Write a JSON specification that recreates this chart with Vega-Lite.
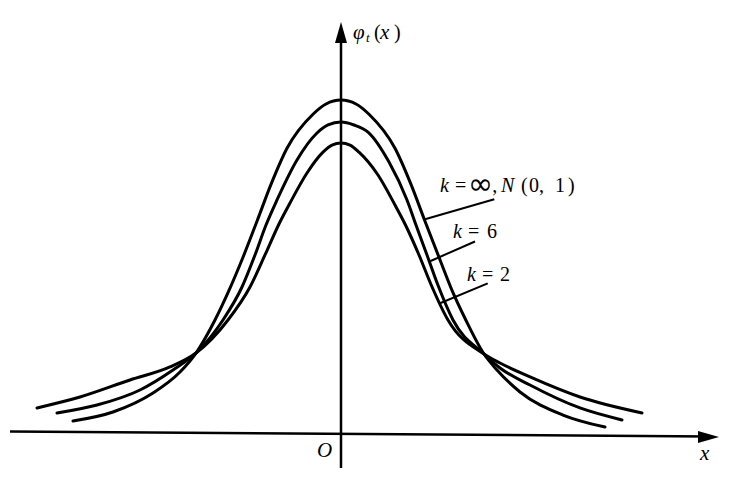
{
  "$schema": "https://vega.github.io/schema/vega-lite/v6.json",
  "width": 734,
  "height": 484,
  "padding": 0,
  "autosize": {"type": "fit", "contains": "padding"},
  "background": "white",
  "config": {"view": {"stroke": null}},
  "encoding": {
    "x": {"field": "x", "type": "quantitative", "scale": {"domain": [-4.2625, 4.9125], "nice": false, "zero": false}, "axis": null},
    "y": {"field": "y", "type": "quantitative", "scale": {"domain": [-0.059524, 0.516667], "nice": false, "zero": false}, "axis": null}
  },
  "layer": [
    {
      "data": {"values": [
        {"k": "inf", "x": -3.35, "y": 0.0155}, {"k": "inf", "x": -2.85, "y": 0.0262}, {"k": "inf", "x": -2.35, "y": 0.0488},
        {"k": "inf", "x": -2.0125, "y": 0.0738}, {"k": "inf", "x": -1.8125, "y": 0.0964}, {"k": "inf", "x": -1.575, "y": 0.1357},
        {"k": "inf", "x": -1.4125, "y": 0.1682}, {"k": "inf", "x": -1.225, "y": 0.2104}, {"k": "inf", "x": -1.05, "y": 0.2533},
        {"k": "inf", "x": -0.875, "y": 0.2971}, {"k": "inf", "x": -0.675, "y": 0.3401}, {"k": "inf", "x": -0.35, "y": 0.3807},
        {"k": "inf", "x": -0.1875, "y": 0.3929}, {"k": "inf", "x": 0, "y": 0.3976}, {"k": "inf", "x": 0.1875, "y": 0.3929},
        {"k": "inf", "x": 0.35, "y": 0.3807}, {"k": "inf", "x": 0.675, "y": 0.3401}, {"k": "inf", "x": 0.875, "y": 0.2971},
        {"k": "inf", "x": 1.05, "y": 0.2533}, {"k": "inf", "x": 1.225, "y": 0.2104}, {"k": "inf", "x": 1.4, "y": 0.1682},
        {"k": "inf", "x": 1.56, "y": 0.1357}, {"k": "inf", "x": 1.7875, "y": 0.0952}, {"k": "inf", "x": 1.95, "y": 0.0762},
        {"k": "inf", "x": 2.2375, "y": 0.05}, {"k": "inf", "x": 2.775, "y": 0.0226}, {"k": "inf", "x": 3.3, "y": 0.0083},

        {"k": "6", "x": -3.55, "y": 0.025}, {"k": "6", "x": -3.05, "y": 0.0345}, {"k": "6", "x": -2.5125, "y": 0.0524},
        {"k": "6", "x": -2.1, "y": 0.0762}, {"k": "6", "x": -1.8125, "y": 0.0964}, {"k": "6", "x": -1.475, "y": 0.1357},
        {"k": "6", "x": -1.2375, "y": 0.175}, {"k": "6", "x": -1.075, "y": 0.2131}, {"k": "6", "x": -0.9375, "y": 0.2488},
        {"k": "6", "x": -0.8, "y": 0.2786}, {"k": "6", "x": -0.55, "y": 0.3262}, {"k": "6", "x": -0.3, "y": 0.3583},
        {"k": "6", "x": -0.1625, "y": 0.3679}, {"k": "6", "x": 0, "y": 0.3714}, {"k": "6", "x": 0.1625, "y": 0.3679},
        {"k": "6", "x": 0.3375, "y": 0.3595}, {"k": "6", "x": 0.6, "y": 0.3238}, {"k": "6", "x": 0.825, "y": 0.2786},
        {"k": "6", "x": 0.9375, "y": 0.2488}, {"k": "6", "x": 1.075, "y": 0.2131}, {"k": "6", "x": 1.2125, "y": 0.177},
        {"k": "6", "x": 1.4, "y": 0.1357}, {"k": "6", "x": 1.7875, "y": 0.0952}, {"k": "6", "x": 1.9875, "y": 0.0786},
        {"k": "6", "x": 2.3625, "y": 0.0583}, {"k": "6", "x": 2.9875, "y": 0.031}, {"k": "6", "x": 3.5125, "y": 0.0167},

        {"k": "2", "x": -3.8, "y": 0.031}, {"k": "2", "x": -3.2625, "y": 0.044}, {"k": "2", "x": -2.6375, "y": 0.0643},
        {"k": "2", "x": -2.1375, "y": 0.0798}, {"k": "2", "x": -1.8125, "y": 0.0964}, {"k": "2", "x": -1.4125, "y": 0.1357},
        {"k": "2", "x": -1.1375, "y": 0.175}, {"k": "2", "x": -0.95, "y": 0.2131}, {"k": "2", "x": -0.775, "y": 0.25},
        {"k": "2", "x": -0.6375, "y": 0.275}, {"k": "2", "x": -0.425, "y": 0.3107}, {"k": "2", "x": -0.225, "y": 0.3355},
        {"k": "2", "x": -0.1125, "y": 0.344}, {"k": "2", "x": 0, "y": 0.3464}, {"k": "2", "x": 0.1125, "y": 0.344},
        {"k": "2", "x": 0.225, "y": 0.3355}, {"k": "2", "x": 0.4625, "y": 0.3083}, {"k": "2", "x": 0.675, "y": 0.2726},
        {"k": "2", "x": 0.8, "y": 0.25}, {"k": "2", "x": 0.975, "y": 0.2131}, {"k": "2", "x": 1.125, "y": 0.178},
        {"k": "2", "x": 1.3375, "y": 0.1357}, {"k": "2", "x": 1.7875, "y": 0.0952}, {"k": "2", "x": 1.9875, "y": 0.0845},
        {"k": "2", "x": 2.3625, "y": 0.0679}, {"k": "2", "x": 2.9875, "y": 0.044}, {"k": "2", "x": 3.7625, "y": 0.025}
      ]},
      "mark": {"type": "line", "interpolate": "monotone", "color": "#000000", "strokeWidth": 3, "strokeCap": "round"},
      "encoding": {"detail": {"field": "k"}}
    },
    {
      "data": {"values": [
        {"x": -4.1375, "y": 0.003, "x2": 4.6, "y2": -0.003},
        {"x": 0, "y": -0.0405, "x2": 0, "y2": 0.475}
      ]},
      "mark": {"type": "rule", "color": "#000000", "strokeWidth": 2.5},
      "encoding": {"x2": {"field": "x2"}, "y2": {"field": "y2"}}
    },
    {
      "data": {"values": [
        {"x": 1.05, "y": 0.2556, "x2": 1.9163, "y2": 0.2794},
        {"x": 1.106, "y": 0.2054, "x2": 1.675, "y2": 0.2292},
        {"x": 1.2375, "y": 0.1556, "x2": 1.8338, "y2": 0.1794}
      ]},
      "mark": {"type": "rule", "color": "#000000", "strokeWidth": 2},
      "encoding": {"x2": {"field": "x2"}, "y2": {"field": "y2"}}
    },
    {
      "data": {"values": [{"x": 4.59375, "y": -0.0036}]},
      "mark": {"type": "point", "shape": "M-1,-0.57L1,0L-1,0.57Z", "size": 441, "filled": true, "color": "#000000", "opacity": 1}
    },
    {
      "data": {"values": [{"x": 0, "y": 0.478}]},
      "mark": {"type": "point", "shape": "M-0.57,1L0,-1L0.57,1Z", "size": 441, "filled": true, "color": "#000000", "opacity": 1}
    },
    {
      "data": {"values": [
        {"t": "k", "x": 1.2375, "y": 0.2881},
        {"t": "N", "x": 2.0, "y": 0.2881},
        {"t": "k", "x": 1.4, "y": 0.2333},
        {"t": "k", "x": 1.575, "y": 0.1821}
      ]},
      "mark": {"type": "text", "font": "Liberation Serif", "fontStyle": "italic", "fontSize": 20, "align": "left", "baseline": "alphabetic", "color": "#000000"},
      "encoding": {"text": {"field": "t"}}
    },
    {
      "data": {"values": [
        {"t": "=", "x": 1.425, "y": 0.2881},
        {"t": ",", "x": 1.89, "y": 0.2881},
        {"t": "(", "x": 2.25, "y": 0.2881},
        {"t": "0", "x": 2.35, "y": 0.2881},
        {"t": ",", "x": 2.475, "y": 0.2881},
        {"t": "1", "x": 2.675, "y": 0.2881},
        {"t": ")", "x": 2.8375, "y": 0.2881},
        {"t": "=", "x": 1.5875, "y": 0.2333},
        {"t": "6", "x": 1.825, "y": 0.2333},
        {"t": "=", "x": 1.7625, "y": 0.1821},
        {"t": "2", "x": 1.9875, "y": 0.1821}
      ]},
      "mark": {"type": "text", "font": "Liberation Serif", "fontSize": 20, "align": "left", "baseline": "alphabetic", "color": "#000000"},
      "encoding": {"text": {"field": "t"}}
    },
    {
      "data": {"values": [{"t": "∞", "x": 1.5875, "y": 0.2857}]},
      "mark": {"type": "text", "font": "DejaVu Sans", "fontSize": 30, "align": "left", "baseline": "alphabetic", "color": "#000000"},
      "encoding": {"text": {"field": "t"}}
    },
    {
      "data": {"values": [
        {"t": "O", "x": -0.3, "y": -0.0274},
        {"t": "x", "x": 4.4875, "y": -0.031},
        {"t": "φ", "x": 0.15, "y": 0.4702},
        {"t": "x", "x": 0.4875, "y": 0.4702}
      ]},
      "mark": {"type": "text", "font": "Liberation Serif", "fontStyle": "italic", "fontSize": 21, "align": "left", "baseline": "alphabetic", "color": "#000000"},
      "encoding": {"text": {"field": "t"}}
    },
    {
      "data": {"values": [
        {"t": "(", "x": 0.4125, "y": 0.4702},
        {"t": ")", "x": 0.6625, "y": 0.4702}
      ]},
      "mark": {"type": "text", "font": "Liberation Serif", "fontSize": 20, "align": "left", "baseline": "alphabetic", "color": "#000000"},
      "encoding": {"text": {"field": "t"}}
    },
    {
      "data": {"values": [{"t": "t", "x": 0.3125, "y": 0.4667}]},
      "mark": {"type": "text", "font": "Liberation Serif", "fontStyle": "italic", "fontSize": 13, "align": "left", "baseline": "alphabetic", "color": "#000000"},
      "encoding": {"text": {"field": "t"}}
    }
  ]
}
